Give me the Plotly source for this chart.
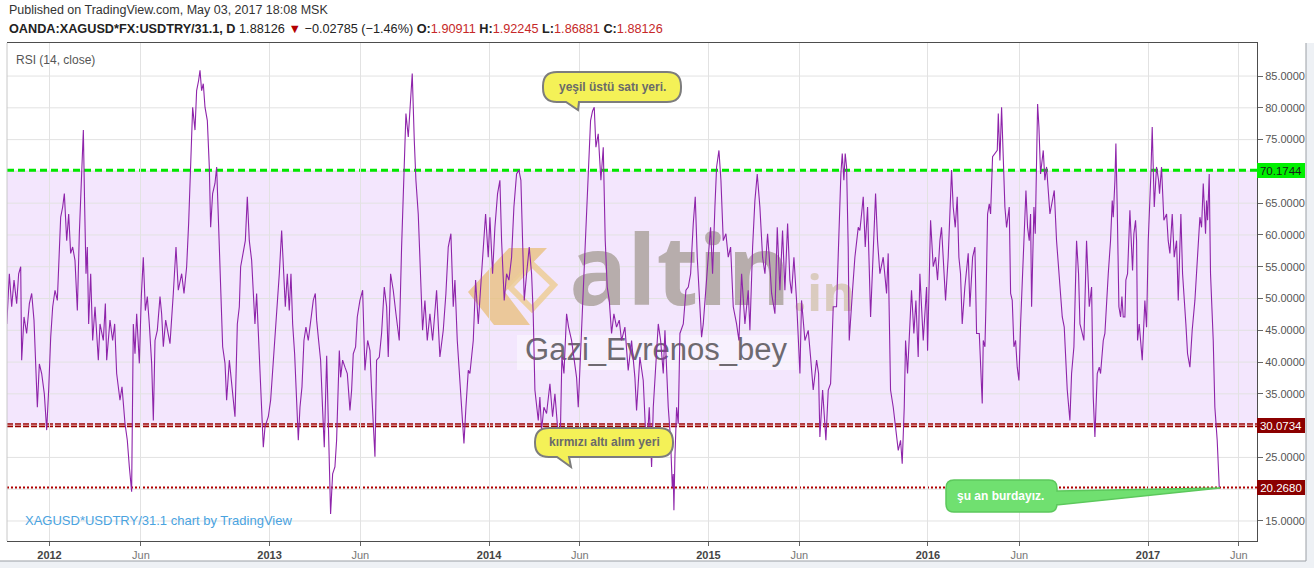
import pandas as pd
import plotly.graph_objects as go

# ---------------- data ----------------
BASE_DATE = pd.Timestamp("2012-01-01")

# day offsets from 2012-01-01 of the RSI turning points, and RSI values
rsi_day_offsets = [
    -71, -66.8, -62.9, -59, -54.6, -51.3, -47.9, -46.3, -42.4, -38, -33.5, -29.6, -25.8, -20.2, -16.9, -13,
    -8.6, -4.7, -1.4, 2, 5.3, 9.2, 13, 18.6, 21.9, 24.7, 28.6, 31.9, 35.2, 38.5, 42.4, 46.3, 49.6, 53, 56.3,
    58.5, 60.7, 62.9, 65.1, 68.5, 71.8, 75.7, 81.2, 84, 89.5, 92.9, 95.1, 100.6, 105, 108.4, 111.7, 117.2,
    120.6, 125.6, 129.4, 132.8, 136.6, 139.4, 142.2, 145, 149.4, 152.7, 156, 159.4, 162.7, 166, 169.9, 172.7,
    175.5, 179.3, 183.8, 186.5, 189.3, 193.2, 197.6, 200.4, 205.9, 210.4, 214.2, 219.8, 223.7, 228.1, 231.4,
    234.8, 238.1, 242, 244.7, 248, 250.3, 253, 255.8, 258.6, 262.5, 265.8, 268, 271.3, 275.2, 278, 281.9,
    284.6, 288, 291.9, 294.6, 299.1, 303, 308.5, 312.4, 315.7, 317.9, 322.3, 325.7, 329, 332.3, 336.2, 339,
    341.7, 344.5, 349, 352.3, 355.6, 358.4, 363.9, 367.8, 372.2, 375.6, 378.9, 382.2, 386.1, 388.9, 392.2,
    395.5, 398.8, 401.6, 404.4, 407.7, 411, 413.8, 416.6, 419.9, 423.2, 426.5, 430.4, 434.3, 438.7, 442.1,
    444.3, 447.6, 450.9, 454.3, 457, 461, 467.5, 470.9, 474.7, 477.5, 482, 484.2, 487.5, 491.4, 495.3, 499.7,
    502.5, 505.2, 509.1, 511.9, 516.3, 520.8, 524.6, 529.1, 533, 535.7, 541.3, 544, 548.5, 552.3, 556.8,
    560.7, 563.4, 567.3, 571.7, 576.2, 581.7, 585.6, 589.5, 592.8, 596.7, 600.6, 603.3, 606.7, 609.4, 613.3,
    617.2, 620.5, 624.4, 628.3, 632.7, 637.2, 643.8, 649.3, 654.9, 659.3, 663.2, 667.6, 671.5, 674.3, 678.2,
    681.5, 685.4, 689.3, 692.6, 696.5, 699.2, 704.8, 708.7, 713.1, 718.6, 725.3, 729.7, 732.5, 736.9, 740.8,
    745.2, 749.1, 751.9, 756.3, 760.2, 764.1, 768.5, 772.4, 776.8, 780.7, 784, 786.8, 789.6, 793.5, 797.9,
    801.8, 804.5, 807.3, 812.9, 815.6, 818.4, 822.3, 826.7, 832.3, 836.7, 840.6, 844.5, 848.9, 852.2, 855.6,
    860, 863.3, 868.3, 872.2, 876.6, 879.4, 884.9, 890.5, 896, 899.9, 903.2, 906, 908.8, 912.6, 917.1, 921,
    924.3, 927.6, 931, 934.8, 938.7, 943.1, 947.6, 951.4, 957, 962.5, 968.1, 973.6, 976.4, 981.9, 987.5, 993,
    997.5, 1001.4, 1004.2, 1008.6, 1012.5, 1016.4, 1020.8, 1023.6, 1029.1, 1033, 1035.8, 1037.4, 1038.5,
    1040.2, 1043, 1045.7, 1048.5, 1054.1, 1058.5, 1062.4, 1066.3, 1070.7, 1074, 1077.3, 1080.7, 1084.5,
    1087.3, 1090.6, 1095.6, 1099.5, 1102.8, 1106.7, 1109.5, 1113.4, 1116.7, 1120.6, 1125, 1128.9, 1132.8,
    1137.2, 1142.7, 1146.6, 1151.1, 1156.6, 1162.1, 1164.9, 1169.4, 1173.2, 1177.1, 1181.5, 1186, 1189.9,
    1194.3, 1198.2, 1201, 1206.5, 1210.4, 1214.8, 1219.2, 1223.1, 1227.6, 1231.4, 1234.2, 1238.1, 1242.5,
    1248.1, 1250.8, 1256.4, 1261.9, 1265.8, 1270.2, 1275.8, 1279.1, 1281.3, 1285.8, 1291.3, 1295.2, 1299.1,
    1303.5, 1309, 1313.5, 1316.2, 1318.5, 1321.2, 1323.4, 1325.7, 1328.4, 1330.1, 1335.6, 1339.5, 1345.1,
    1347.8, 1350.6, 1353.4, 1356.7, 1360.6, 1365.6, 1370, 1373.9, 1377.2, 1381.1, 1386.6, 1392.2, 1394.9,
    1398.8, 1403.3, 1406, 1408.8, 1411.6, 1415.5, 1418.2, 1421.6, 1423.8, 1427.1, 1431, 1433.7, 1437.6, 1441,
    1444.8, 1447.6, 1453.2, 1456.5, 1458.7, 1460.4, 1463.1, 1465.4, 1469.8, 1473.7, 1477, 1480.9, 1483.6,
    1487.5, 1490.3, 1494.7, 1497.5, 1500.3, 1503, 1506.4, 1509.7, 1512.5, 1515.2, 1518, 1522.4, 1528, 1530.8,
    1535.3, 1539.1, 1541.9, 1546.4, 1548.6, 1551.3, 1553, 1555.8, 1557.4, 1560.2, 1563, 1565.2, 1568.5,
    1572.4, 1576.3, 1578, 1580.7, 1583.5, 1587.4, 1589, 1591.8, 1596.2, 1598.5, 1601.2, 1604, 1606.8, 1609.5,
    1612.3, 1615.1, 1618.4, 1621.2, 1624, 1626.7, 1629.5, 1631.7, 1633.4, 1637.3, 1639.5, 1643.4, 1645.6,
    1648.3, 1652.8, 1655.5, 1658.3, 1663.9, 1667.7, 1671.1, 1674.9, 1678.8, 1680.5, 1684.4, 1687.7, 1690.5,
    1692.7, 1697.1, 1699.9, 1703.8, 1708.2, 1711.5, 1713.8, 1716.5, 1720.4, 1724.8, 1727.6, 1729.3, 1733.2,
    1735.9, 1738.7, 1742.6, 1745.9, 1748.1, 1752.6, 1755.3, 1760.9, 1764.7, 1767.5, 1769.2, 1772, 1773.6,
    1775.8, 1778.6, 1781.4, 1783.6, 1785.8, 1788.6, 1790.2, 1793, 1796.9, 1799.7, 1801.3, 1803.5, 1806.3,
    1808, 1809.6, 1812.4, 1817.4, 1821.8, 1824.6, 1827.4, 1830.2, 1831.8, 1834, 1835.7, 1837.4, 1841.2,
    1844.6, 1846.2, 1849.5, 1853.4, 1857.9, 1860.6, 1863.4, 1867.3, 1870.6, 1874.5, 1877.3, 1881.7, 1884.5,
    1890, 1892.8, 1896.7, 1900.5, 1905, 1909.4, 1913.3, 1916.1, 1918.9, 1922.7, 1924.4, 1926.1, 1928.8, 1931,
    1935.5, 1938.2, 1942.1, 1945.5,
]
rsi_values = [
    46.0, 53.9, 48.7, 52.9, 49.2, 53.9, 55.0, 40.3, 47.1, 44.5, 49.2, 50.8, 46.6, 32.9, 39.7, 38.2,
    35.0, 29.3, 35.6, 43.9, 48.7, 51.3, 49.7, 62.8, 64.4, 66.5, 59.1, 63.3, 57.1, 58.1, 56.0, 48.1, 60.2, 69.6, 76.5,
    64.4, 53.9, 58.1, 46.0, 53.9, 43.4, 48.7, 40.3, 46.0, 43.4, 49.2, 40.3, 46.6, 43.4, 46.0, 38.2, 34.0,
    36.1, 30.3, 27.7, 23.5, 19.6, 46.0, 41.3, 47.6, 39.8, 50.3, 56.5, 48.1, 50.3, 46.0, 39.8, 30.8,
    43.4, 45.0, 50.3, 47.6, 42.4, 46.6, 44.5, 42.9, 50.8, 58.1, 51.3, 53.9, 50.8, 55.0, 61.8,
    70.7, 80.1, 76.5, 82.7, 84.3, 85.9, 82.7, 83.8, 80.1, 78.0, 70.7, 61.2, 66.5, 68.1, 70.7, 59.1,
    50.8, 42.4, 39.8, 34.0, 40.3, 36.1, 31.4, 46.0, 48.7, 55.0, 57.1, 59.1, 66.0, 59.1, 56.0, 50.8,
    46.0, 50.8, 39.8, 32.4, 26.6, 29.8, 31.4, 34.0, 40.3, 43.4, 49.7, 53.9, 60.7, 53.9, 48.7,
    53.9, 48.1, 53.9, 46.0, 41.3, 32.9, 27.7, 32.9, 36.1, 43.4, 45.5, 43.4, 46.6, 49.7, 50.8,
    46.6, 43.4, 40.3, 32.4, 26.6, 41.0, 16.1, 22.4, 23.5, 27.7, 41.8, 37.6, 40.3, 39.2, 38.2, 32.4,
    35.6, 41.3, 42.4, 47.1, 49.7, 51.3, 38.7, 43.4, 41.8, 35.6, 25.1, 40.3, 40.8, 44.5, 51.8,
    48.7, 40.8, 53.9, 51.3, 47.6, 43.4, 58.1, 68.1, 79.1, 75.4, 82.7, 85.4, 74.9, 68.6, 63.3,
    54.4, 45.0, 49.7, 43.4, 47.6, 43.4, 51.3, 40.8, 45.0, 50.8, 58.1, 60.2, 48.7, 52.9, 43.4,
    38.7, 32.9, 27.2, 32.9, 38.7, 38.2, 43.4, 52.9, 46.0, 53.9, 63.3, 56.5, 62.8, 53.9, 61.2,
    66.5, 68.6, 59.1, 49.7, 53.9, 52.9, 56.5, 64.4, 69.6, 70.2, 68.6, 59.1, 49.7, 53.9, 58.1,
    53.9, 47.6, 35.6, 30.8, 34.5, 29.3, 32.9, 31.9, 36.6, 31.4, 35.0, 30.3, 25.1, 40.8, 38.2,
    47.6, 45.5, 43.4, 40.8, 37.6, 32.9, 45.5, 58.1, 69.6, 78.0, 79.5, 80.1, 73.8, 75.9, 68.6, 73.8,
    59.1, 51.8, 49.7, 44.5, 47.6, 45.5, 46.6, 43.4, 45.5, 38.7, 43.4, 37.6, 32.4, 40.8, 37.1, 25.6,
    32.9, 23.5, 32.9, 40.8, 46.0, 43.4, 38.2, 45.0, 32.9, 27.7, 20.3, 22.4, 16.7,
    25.1, 32.9, 30.3, 44.5, 46.0, 51.3, 51.8, 53.9, 61.8, 66.0, 56.5, 49.7, 43.9,
    46.0, 49.7, 56.5, 61.2, 53.9, 64.4, 70.7, 73.3, 68.6, 59.1, 60.2, 56.5, 58.1,
    48.7, 46.0, 43.4, 53.9, 46.0, 51.3, 45.0, 58.1, 65.4, 69.6, 64.4, 56.5, 53.9,
    60.2, 55.0, 50.8, 47.6, 61.2, 51.3, 60.7, 51.3, 61.8, 52.9, 50.8, 56.5, 49.7,
    38.2, 49.7, 43.4, 45.0, 40.8, 35.6, 40.3, 38.2, 28.2, 35.6, 27.7, 35.6, 36.6,
    48.7, 48.7, 64.4, 69.6, 72.8, 68.6, 72.8, 70.7, 58.1, 43.4, 51.3, 56.5, 61.2,
    60.7, 63.3, 66.0, 58.1, 64.4, 47.1, 56.5, 66.5, 59.1, 53.9, 56.5, 50.8, 57.1,
    35.6, 32.9, 30.3, 28.7, 26.1, 27.7, 24.0, 32.9, 43.4, 38.2, 46.0, 51.3, 44.5, 49.7,
    40.8, 53.9, 43.4, 49.7, 51.8, 41.8, 53.9, 62.3, 55.0, 56.5, 52.9, 59.1, 61.2,
    53.9, 49.7, 56.5, 62.8, 70.2, 64.4, 61.2, 66.0, 56.5, 53.9, 46.0, 51.8, 57.1, 48.7,
    56.5, 58.1, 44.5, 44.5, 39.7, 33.5, 43.4, 42.4, 48.7, 63.3, 64.9, 63.3, 72.3,
    72.8, 73.3, 79.1, 71.7, 80.1, 69.6, 64.4, 61.2, 64.4, 50.8, 49.7, 42.4, 43.4, 39.2,
    37.1, 46.0, 53.9, 62.8, 67.0, 61.2, 59.1, 63.3, 48.7, 64.4, 60.2, 80.6, 77.0,
    69.6, 73.3, 68.6, 70.7, 63.3, 65.4, 67.0, 59.1, 53.9, 50.8, 47.1, 45.5, 38.2,
    35.6, 30.8, 38.2, 42.4, 59.1, 53.9, 46.0, 45.0, 43.4, 59.1, 53.9, 48.7, 51.8,
    34.5, 28.2, 38.2, 39.2, 38.2, 43.4, 44.5, 53.9, 59.1, 65.4, 62.8, 68.6, 74.4,
    64.4, 48.7, 47.1, 50.3, 47.1, 47.1, 52.9, 53.9, 63.9, 58.1, 54.4, 60.2, 62.3,
    59.1, 43.4, 46.0, 40.3, 49.7, 45.5, 59.1, 64.4, 69.6, 77.0, 70.2, 64.4, 70.7,
    68.6, 66.5, 70.7, 62.3, 63.3, 59.1, 57.1, 63.3, 56.5, 59.1, 49.7, 63.3, 53.9,
    46.0, 41.3, 39.2, 45.0, 49.7, 57.1, 62.8, 61.2, 68.1, 60.2, 65.4, 62.3, 69.6, 53.9,
    43.4, 32.9, 27.7, 20.268,
]

overbought_level = 70.1744
oversold_level = 30.0734
current_level = 20.2680

grid_values = [15, 20, 25, 30, 35, 40, 45, 50, 55, 60, 65, 70, 75, 80, 85]
y_tick_values = [15, 25, 35, 40, 45, 50, 55, 60, 65, 75, 80, 85]
x_tick_dates = ["2012-01-01", "2012-06-01", "2013-01-01", "2013-06-01", "2014-01-01", "2014-06-01",
                "2015-01-01", "2015-06-01", "2016-01-01", "2016-06-01", "2017-01-01", "2017-06-01"]
x_tick_labels = ["2012", "Jun", "2013", "Jun", "2014", "Jun", "2015", "Jun", "2016", "Jun", "2017", "Jun"]

# ---------------- geometry helpers (layout only) ----------------
W, H = 1314, 568
PL, PR, PT, PB = 7, 1257, 43, 541
X_DAY0_PX = 49.5
DAYS_PER_PX = 1827 / 1098.5
Y_RANGE = [11.85, 90.2]


def px_to_date(px):
    return BASE_DATE + pd.Timedelta(days=(px - X_DAY0_PX) * DAYS_PER_PX)


def py_to_val(py):
    return Y_RANGE[0] + (PB - py) / (PB - PT) * (Y_RANGE[1] - Y_RANGE[0])


def xp(px):
    return (px - PL) / (PR - PL)


def yp(py):
    return (PB - py) / (PB - PT)


def P(x, y):
    return f"{xp(x):.5f},{yp(y):.5f}"


def bubble_path(x0, y0, x1, y1, r, tail=None):
    s = f"M {P(x0 + r, y0)} L {P(x1 - r, y0)} Q {P(x1, y0)} {P(x1, y0 + r)} "
    if tail and tail[0] == "right":
        _, ya, yb, tx, ty = tail
        s += f"L {P(x1, ya)} L {P(tx, ty)} L {P(x1, yb)} "
    s += f"L {P(x1, y1 - r)} Q {P(x1, y1)} {P(x1 - r, y1)} "
    if tail and tail[0] == "bottom":
        _, xa, xb, tx, ty = tail
        s += f"L {P(xb, y1)} L {P(tx, ty)} L {P(xa, y1)} "
    s += f"L {P(x0 + r, y1)} Q {P(x0, y1)} {P(x0, y1 - r)} L {P(x0, y0 + r)} Q {P(x0, y0)} {P(x0 + r, y0)} Z"
    return s


rsi_dates = [BASE_DATE + pd.Timedelta(days=d) for d in rsi_day_offsets]

fig = go.Figure()

# watermark texts (behind the RSI line)
fig.add_trace(go.Scatter(x=[px_to_date(680)], y=[py_to_val(281)], mode="text", text=["altin"],
                         textfont=dict(family="Open Sans", size=96, color="#b7adac", weight=700),
                         hoverinfo="skip", showlegend=False, cliponaxis=False))
fig.add_trace(go.Scatter(x=[px_to_date(824)], y=[py_to_val(298)], mode="text", text=[".in"],
                         textfont=dict(family="Open Sans", size=50, color="#dacbbf", weight=700),
                         hoverinfo="skip", showlegend=False, cliponaxis=False))
fig.add_trace(go.Scatter(x=[px_to_date(656)], y=[py_to_val(352)], mode="text", text=["Gazi_Evrenos_bey"],
                         textfont=dict(family="Liberation Sans", size=31, color="#6e6a70"),
                         hoverinfo="skip", showlegend=False, cliponaxis=False))

# RSI line
fig.add_trace(go.Scatter(x=rsi_dates, y=rsi_values, mode="lines",
                         line=dict(color="#8e24aa", width=1.1), showlegend=False,
                         hoverinfo="skip"))

shapes = []
# band fill
shapes.append(dict(type="rect", xref="paper", yref="y", x0=0, x1=1, y0=oversold_level, y1=overbought_level,
                   fillcolor="#f3e6fd", line=dict(width=0), layer="below"))
# horizontal grid lines (also at levels whose tick labels are hidden behind price labels)
for g in grid_values:
    shapes.append(dict(type="line", xref="paper", yref="y", x0=0, x1=1, y0=g, y1=g,
                       line=dict(color="#e2e2e2", width=1), layer="below"))
# watermark box behind name
shapes.append(dict(type="rect", xref="paper", yref="paper", x0=xp(517), x1=xp(797), y0=yp(370), y1=yp(335),
                   fillcolor="rgba(255,255,255,0.45)", line=dict(width=0), layer="between"))
# logo chevron
logo = (f"M {P(468, 292)} L {P(509, 248)} L {P(547, 248)} L {P(505, 292)} "
        f"L {P(530, 325)} L {P(494, 325)} Z")
shapes.append(dict(type="path", xref="paper", yref="paper", path=logo,
                   fillcolor="rgba(232,190,120,0.75)", line=dict(width=0), layer="between"))
diamond = f"M {P(510, 287)} L {P(532, 264)} L {P(554, 285)} L {P(532, 309)} Z"
shapes.append(dict(type="path", xref="paper", yref="paper", path=diamond,
                   fillcolor="rgba(0,0,0,0)", line=dict(color="rgba(236,205,150,0.85)", width=6),
                   layer="between"))
# level lines
shapes.append(dict(type="line", xref="paper", yref="y", x0=0, x1=1.004, y0=overbought_level, y1=overbought_level,
                   line=dict(color="#00e600", width=3, dash="7px,4px"), layer="between"))
shapes.append(dict(type="line", xref="paper", yref="y", x0=0, x1=1.004, y0=oversold_level, y1=oversold_level,
                   line=dict(color="#990000", width=4, dash="6px,2px"), layer="between"))
shapes.append(dict(type="line", xref="paper", yref="y", x0=0, x1=1.004, y0=oversold_level, y1=oversold_level,
                   line=dict(color="#f2c4c4", width=1, dash="6px,2px"), layer="between"))
shapes.append(dict(type="line", xref="paper", yref="y", x0=0, x1=1.004, y0=current_level, y1=current_level,
                   line=dict(color="#b00000", width=2, dash="2px,2px"), layer="between"))
# left border
shapes.append(dict(type="line", xref="paper", yref="paper", x0=0, x1=0, y0=0, y1=1,
                   line=dict(color="#c8c8c8", width=1)))
# outer panel strips
shapes.append(dict(type="rect", xref="paper", yref="paper", x0=xp(1306), x1=xp(1316), y0=yp(570), y1=yp(43),
                   fillcolor="#eef1f5", line=dict(width=0)))
shapes.append(dict(type="rect", xref="paper", yref="paper", x0=xp(-2), x1=xp(1316), y0=yp(570), y1=yp(561),
                   fillcolor="#eef1f5", line=dict(width=0)))
shapes.append(dict(type="line", xref="paper", yref="paper", x0=xp(1306), x1=xp(1306), y0=yp(561), y1=yp(43),
                   line=dict(color="#9a9fa5", width=1)))
shapes.append(dict(type="line", xref="paper", yref="paper", x0=xp(0), x1=xp(1306), y0=yp(561), y1=yp(561),
                   line=dict(color="#9a9fa5", width=1)))
# callouts
shapes.append(dict(type="path", xref="paper", yref="paper",
                   path=bubble_path(543, 72, 681, 102, 14, ("bottom", 566, 579, 578, 110)),
                   fillcolor="#f4f157", line=dict(color="#7d7d7d", width=2), layer="above"))
shapes.append(dict(type="path", xref="paper", yref="paper",
                   path=bubble_path(535, 428, 673, 457, 14, ("bottom", 557, 569, 571, 467)),
                   fillcolor="#f4f157", line=dict(color="#7d7d7d", width=2), layer="above"))
shapes.append(dict(type="path", xref="paper", yref="paper",
                   path=bubble_path(946, 480, 1057, 512, 8, ("right", 491, 505, 1220, 488)),
                   fillcolor="#70e070", line=dict(color="#5cc85c", width=1.5), layer="above"))

annotations = []
annotations.append(dict(xref="paper", yref="paper", x=xp(7), y=yp(10), xanchor="left", yanchor="middle",
                        text="Published on TradingView.com, May 03, 2017 18:08 MSK", showarrow=False,
                        font=dict(family="Liberation Sans", size=12.5, color="#333333")))
annotations.append(dict(xref="paper", yref="paper", x=xp(7), y=yp(29), xanchor="left", yanchor="middle",
                        text=("<b>OANDA:XAGUSD*FX:USDTRY/31.1, D</b> 1.88126 "
                              "<span style='color:#b40000'>▼</span> −0.02785 (−1.46%) "
                              "<b>O:</b><span style='color:#c62828'>1.90911</span> "
                              "<b>H:</b><span style='color:#c62828'>1.92245</span> "
                              "<b>L:</b><span style='color:#c62828'>1.86881</span> "
                              "<b>C:</b><span style='color:#c62828'>1.88126</span>"),
                        showarrow=False, font=dict(family="Liberation Sans", size=12.7, color="#222222")))
annotations.append(dict(xref="paper", yref="paper", x=xp(14), y=yp(60), xanchor="left", yanchor="middle",
                        text="RSI (14, close)", showarrow=False,
                        font=dict(family="Liberation Sans", size=12, color="#555555")))
annotations.append(dict(xref="paper", yref="paper", x=xp(23), y=yp(520), xanchor="left", yanchor="middle",
                        text="XAGUSD*USDTRY/31.1 chart by TradingView", showarrow=False,
                        font=dict(family="Liberation Sans", size=13, color="#4aa3df")))
# callout texts
annotations.append(dict(xref="paper", yref="paper", x=xp(612), y=yp(87), xanchor="center", yanchor="middle",
                        text="<b>yeşil üstü satı yeri.</b>", showarrow=False,
                        font=dict(family="Liberation Sans", size=12, color="#6a6a6a")))
annotations.append(dict(xref="paper", yref="paper", x=xp(604), y=yp(442), xanchor="center", yanchor="middle",
                        text="<b>kırmızı altı alım yeri</b>", showarrow=False,
                        font=dict(family="Liberation Sans", size=12, color="#6a6a6a")))
annotations.append(dict(xref="paper", yref="paper", x=xp(955), y=yp(496), xanchor="left", yanchor="middle",
                        text="<b>şu an burdayız.</b>", showarrow=False,
                        font=dict(family="Liberation Sans", size=12, color="#ffffff")))
# price labels on the right axis
for lvl, bg, fg in [(overbought_level, "#00f000", "#1a1a1a"), (oversold_level, "#8b0000", "#ffffff"),
                    (current_level, "#8b0000", "#ffffff")]:
    annotations.append(dict(xref="paper", yref="y", x=1.0, y=lvl, xanchor="left", yanchor="middle",
                            text=f"{lvl:.4f}", showarrow=False, bgcolor=bg, borderpad=1, borderwidth=0,
                            width=46, height=13, align="center",
                            font=dict(family="Liberation Sans", size=11.5, color=fg)))

tick_text = [f"<b>{t}</b>" if t != "Jun" else f"<span style='color:#777777'>{t}</span>" for t in x_tick_labels]

fig.update_layout(
    width=W, height=H,
    margin=dict(l=PL, r=W - PR, t=PT, b=H - PB),
    paper_bgcolor="#ffffff", plot_bgcolor="#ffffff",
    showlegend=False,
    shapes=shapes, annotations=annotations,
    xaxis=dict(type="date", range=[px_to_date(PL), px_to_date(PR)],
               tickvals=x_tick_dates, ticktext=tick_text,
               showgrid=True, gridcolor="#e2e2e2", gridwidth=1,
               showline=True, linecolor="#4d4d4d", linewidth=1, mirror=True,
               ticks="outside", ticklen=4, tickcolor="#666666",
               tickfont=dict(family="Liberation Sans", size=11, color="#444444"),
               zeroline=False, fixedrange=True),
    yaxis=dict(range=Y_RANGE, side="right", tickvals=y_tick_values,
               ticktext=[f"{v:.4f}" for v in y_tick_values],
               showgrid=False,
               showline=True, linecolor="#4d4d4d", linewidth=1,
               ticks="outside", ticklen=5, tickcolor="#666666",
               tickfont=dict(family="Liberation Sans", size=11, color="#555555"),
               zeroline=False, fixedrange=True),
)

fig.write_html("out.html", post_script="document.body.style.margin='0';",
               config={"displayModeBar": False})
